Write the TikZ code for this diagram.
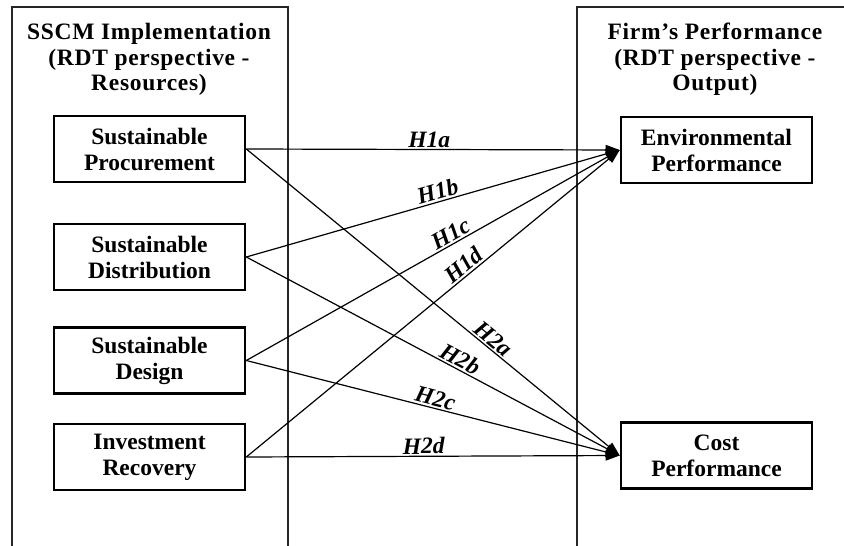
\documentclass[tikz,border=0pt]{standalone}
\usepackage{fontspec}
\setmainfont{Liberation Serif}
\usetikzlibrary{arrows.meta}
\begin{document}
\begin{tikzpicture}[x=1pt,y=-1pt,
  frame/.style={draw=black!85, line width=1.1pt},
  factor/.style={draw, line width=2.6pt, minimum width=191pt, minimum height=66pt, align=center, inner sep=0pt, font=\fontsize{23.5}{26}\selectfont\bfseries},
  header/.style={align=center, anchor=north, inner sep=0pt, font=\fontsize{23.5}{25.5}\selectfont\bfseries\addfontfeature{LetterSpace=3}},
  link/.style={line width=1.2pt, -{Triangle[length=14pt,width=10pt]}},
  hyp/.style={sloped, above, inner sep=1.5pt, font=\fontsize{23.5}{25}\selectfont\bfseries\itshape}
]
\clip (0,0) rectangle (844,546);
\draw[frame] (12,7) rectangle (288,600);
\draw[frame] (577,7) rectangle (900,600);

\node[header] (lh) at (149,23) {SSCM Implementation\\(RDT perspective -\\Resources)};
\node[header] (rh) at (715,23) {Firm’s Performance\\(RDT perspective -\\Output)};

\node[factor] (sp) at (149.5,149) {Sustainable\\Procurement};
\node[factor] (sdi) at (149.5,257) {Sustainable\\Distribution};
\node[factor] (sde) at (149.5,360.5) {Sustainable\\Design};
\node[factor] (ir) at (149.5,457) {Investment\\Recovery};
\node[factor] (env) at (716.5,150) {Environmental\\Performance};
\node[factor] (cost) at (716.5,455.5) {Cost\\Performance};

\draw[link] (sp.east) -- node[hyp,pos=.49]{H1a} (env.west);
\draw[link] (sdi.east) -- node[hyp,pos=.52]{H1b} (env.west);
\draw[link] (sde.east) -- node[hyp,pos=.56]{H1c} (env.west);
\draw[link] (ir.east) -- node[hyp,pos=.6]{H1d} (env.west);
\draw[link] (sp.east) -- node[hyp,pos=.645]{H2a} (cost.west);
\draw[link] (sdi.east) -- node[hyp,pos=.56]{H2b} (cost.west);
\draw[link] (sde.east) -- node[hyp,pos=.5]{H2c} (cost.west);
\draw[link] (ir.east) -- node[hyp,pos=.475]{H2d} (cost.west);
\end{tikzpicture}
\end{document}
